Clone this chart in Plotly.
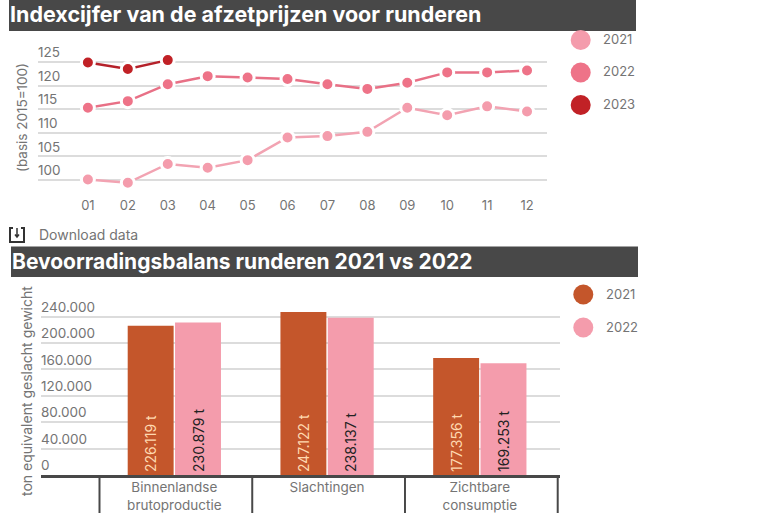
import plotly.graph_objects as go

W, H = 770, 513

months = ["01", "02", "03", "04", "05", "06", "07", "08", "09", "10", "11", "12"]
index_2021 = [100.1, 99.4, 103.4, 102.6, 104.2, 109.0, 109.3, 110.2, 115.3, 113.7, 115.6, 114.5]
index_2022 = [115.3, 116.7, 120.3, 122.0, 121.7, 121.4, 120.3, 119.3, 120.6, 122.8, 122.8, 123.2]
index_2023 = [124.9, 123.5, 125.4]
index_ticks = [100, 105, 110, 115, 120, 125]

balance_categories = ["Binnenlandse<br>brutoproductie", "Slachtingen", "Zichtbare<br>consumptie"]
balance_2021 = [226119, 247122, 177356]
balance_2022 = [230879, 238137, 169253]
balance_ticks = [0, 40000, 80000, 120000, 160000, 200000, 240000]

FONT = "Inter, 'Open Sans', sans-serif"
DARK = "#484848"
GREY = "#747474"
GRID = "#dcdcdc"
C21, C22, C23 = "#f49cac", "#ee7388", "#c12126"
L21, L22, L23 = "#f2a3b2", "#e87086", "#b5212a"
B21, B22 = "#c4562b", "#f49cac"


def px(x):
    return x / W


def py(y):
    return 1 - y / H


def dutch(v):
    return f"{v:,}".replace(",", ".")


fig = go.Figure()

for name, vals, lc, mc in [("2021", index_2021, L21, C21), ("2022", index_2022, L22, C22), ("2023", index_2023, L23, C23)]:
    fig.add_trace(go.Scatter(
        x=months[:len(vals)], y=vals, name=name, mode="lines+markers",
        line=dict(color=lc, width=2.5),
        marker=dict(color=mc, size=13, line=dict(color="white", width=3)),
        xaxis="x", yaxis="y", cliponaxis=False,
    ))

for name, vals, col, tcol in [("2021", balance_2021, B21, "#ffd9b0"), ("2022", balance_2022, B22, "#222222")]:
    fig.add_trace(go.Bar(
        x=balance_categories, y=vals, name=name, marker=dict(color=col, line=dict(width=0)),
        text=[dutch(v) + " t" for v in vals], textposition="inside", insidetextanchor="start",
        textangle=-90, textfont=dict(family=FONT, size=14, color=tcol), constraintext="none",
        xaxis="x2", yaxis="y2",
    ))

shapes = []
annotations = []


def rect(x0, y0, x1, y1, color):
    shapes.append(dict(type="rect", xref="paper", yref="paper", x0=px(x0), x1=px(x1), y0=py(y0), y1=py(y1),
                       fillcolor=color, line=dict(width=0), layer="above"))


def text(x, y, s, size=13, color=GREY, weight=None, angle=0, anchor="left"):
    t = f"<b>{s}</b>" if weight else s
    annotations.append(dict(xref="paper", yref="paper", x=px(x), y=py(y), text=t, showarrow=False,
                            xanchor=anchor, yanchor="middle", textangle=angle,
                            font=dict(family=FONT, size=size, color=color)))


def legend_item(cx, cy, tx, label, color):
    shapes.append(dict(type="circle", xref="paper", yref="paper", x0=px(cx - 10), x1=px(cx + 10),
                       y0=py(cy + 10), y1=py(cy - 10), fillcolor=color, line=dict(width=0)))
    text(tx, cy - 1, label, size=13)


rect(9, 0, 636, 31, DARK)
rect(11, 246.5, 638, 277, DARK)
text(8, 14, "Indexcijfer van de afzetprijzen voor runderen", size=21.5, color="white", weight=True)
text(10, 261.5, "Bevoorradingsbalans runderen 2021 vs 2022", size=21, color="white", weight=True)

text(22, 118, "(basis 2015=100)", size=13.5, angle=-90, anchor="center")
text(26, 391, "ton equivalent geslacht gewicht", size=14, angle=-90, anchor="center")

legend_item(580.7, 40, 601, "2021", C21)
legend_item(580.7, 72.5, 601, "2022", C22)
legend_item(580.7, 105, 601, "2023", C23)
legend_item(583.3, 294.5, 603.5, "2021", B21)
legend_item(583.3, 327.5, 603.5, "2022", B22)

# download icon
icon = (f"M {px(13)} {py(228)} L {px(10)} {py(228)} L {px(10)} {py(242)} L {px(24)} {py(242)} "
        f"L {px(24)} {py(228)} L {px(21)} {py(228)}")
shapes.append(dict(type="path", xref="paper", yref="paper", path=icon, line=dict(color="#333333", width=2)))
arrow = (f"M {px(17)} {py(228)} L {px(17)} {py(237)} M {px(15)} {py(234.5)} L {px(17)} {py(237)} L {px(19)} {py(234.5)}")
shapes.append(dict(type="path", xref="paper", yref="paper", path=arrow, line=dict(color="#333333", width=1.5)))
text(37, 234.5, "Download data", size=14)

# category separators under the bars
for cx in [-0.49, 0.51, 1.51, 2.51]:
    shapes.append(dict(type="line", xref="x2", yref="paper", x0=cx, x1=cx, y0=py(475), y1=0,
                       line=dict(color=DARK, width=2)))

fig.update_layout(
    width=W, height=H, margin=dict(l=0, r=0, t=0, b=0, autoexpand=False),
    paper_bgcolor="white", plot_bgcolor="white", showlegend=False,
    font=dict(family=FONT, size=13, color=GREY),
    barmode="group", bargap=0.38, bargroupgap=0.03,
    shapes=shapes, annotations=annotations,
    xaxis=dict(domain=[px(38), px(547)], anchor="y", type="category", range=[-1.25, 11.5], categoryorder="array",
               categoryarray=months, showgrid=False, showline=False, zeroline=False, ticks="", ticklabelstandoff=8,
               tickfont=dict(size=13, color=GREY), automargin=False),
    yaxis=dict(domain=[py(188), py(40)], anchor="x", range=[98.3, 129.66], tickvals=index_ticks,
               ticktext=[str(t) for t in index_ticks], ticklabelposition="inside top", ticklabelstandoff=-3,
               showgrid=True, gridcolor=GRID, gridwidth=1.5, zeroline=False, showline=False, ticks="",
               tickfont=dict(size=13.5, color=GREY), automargin=False),
    xaxis2=dict(domain=[px(41), px(560)], anchor="y2", type="category", range=[-0.873, 2.525],
                showgrid=False, zeroline=False, showline=True, linecolor=DARK, linewidth=3, ticks="",
                ticklabelstandoff=-2, tickfont=dict(size=13.5, color=GREY), automargin=False),
    yaxis2=dict(domain=[py(475), py(290)], anchor="x2", range=[0, 280300], tickvals=balance_ticks,
                ticktext=[dutch(t) for t in balance_ticks], ticklabelposition="inside top", ticklabelstandoff=-3,
                showgrid=True, gridcolor=GRID, gridwidth=1.5, zeroline=False, showline=False, ticks="",
                tickfont=dict(size=13.5, color=GREY), automargin=False),
)

fig.write_html("out.html", config=dict(displayModeBar=False),
               post_script="document.body.style.margin='0';document.body.style.overflow='hidden';")
